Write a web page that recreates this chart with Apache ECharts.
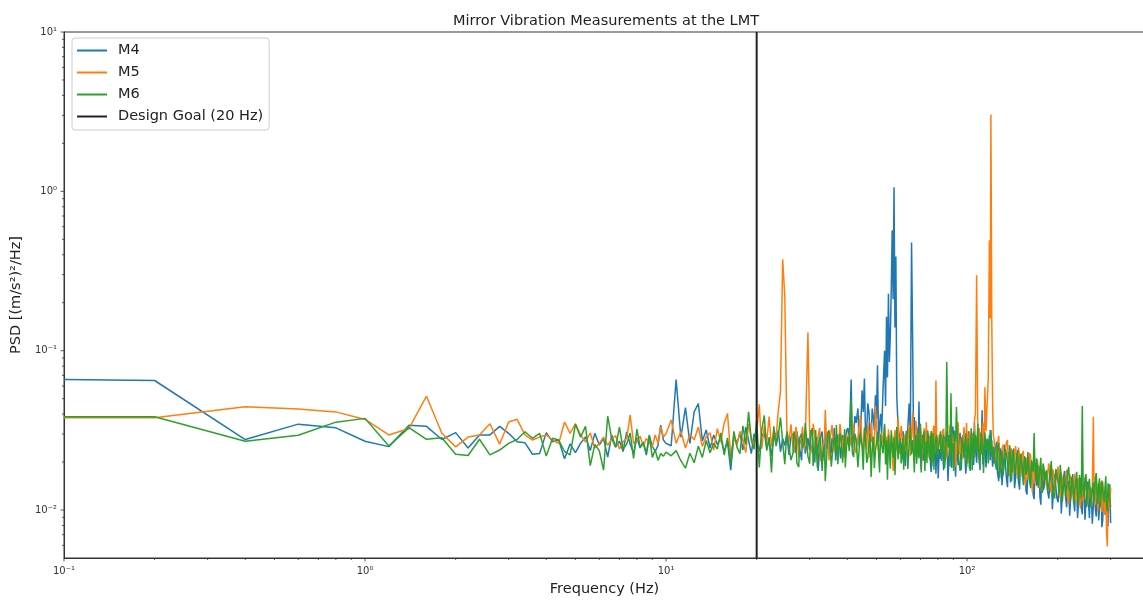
<!DOCTYPE html>
<html>
<head>
<meta charset="utf-8">
<script src="https://cdn.jsdelivr.net/npm/echarts@6/dist/echarts.min.js"></script>
<style>
  html, body { margin: 0; padding: 0; background: #fff; }
  #chart { width: 1143px; height: 603px; }
</style>
</head>
<body>
<div id="chart"></div>
<script>
// frequency grid (Hz), shared by the three mirrors
const freqs = [
  .1,.2,.4,.6,.8,1,
  1.2,1.4,1.6,1.8,2,2.2,2.4,2.6,2.8,3,
  3.2,3.4,3.6,3.8,4,4.2,4.4,4.6,4.8,5,
  5.2,5.4,5.6,5.8,6,6.2,6.4,6.6,6.8,7,
  7.2,7.4,7.6,7.8,8,8.2,8.4,8.6,8.8,9,
  9.2,9.4,9.6,9.8,10,
  10.4,10.8,11.2,11.6,12,12.4,12.8,13.2,13.6,14,
  14.4,14.8,15.2,15.6,16,16.4,16.8,17.2,17.6,18,
  18.4,18.8,19.2,19.6,20,20.4,20.8,21.2,21.6,22,
  22.4,22.8,23.2,23.6,24,24.4,24.8,25.2,25.6,26,
  26.6,27.2,27.8,28.4,29,29.6,30.2,30.8,31.4,32,
  32.6,33.2,33.8,34.4,35,35.6,36.2,36.8,37.4,38,
  38.6,39.2,39.8,
  40.6,41.2,42,42.8,43.4,44.2,44.8,45.6,46.4,47.2,
  48,48.8,49.6,50.4,51.2,52,52.6,53.2,53.6,54,
  54.4,54.8,55.2,55.6,56,56.4,56.8,57.2,57.6,58,
  58.4,59,59.6,
  60.4,61.2,62,62.8,63.6,64.2,64.8,65.4,66,66.8,
  67.6,68.4,69.2,70,70.8,71.6,72.4,73.2,74,74.8,
  75.6,76.4,77.2,78,78.8,79.6,
  80.8,82.2,83.6,85,85.6,86.4,87.8,88.4,89.6,91,
  92.2,93.4,94.8,96.2,97.6,99,100.4,101.8,103.2,104.6,
  105.8,106.6,107.6,108.6,109.8,111,112.2,113.4,114.6,115.6,
  116.6,117.6,118.6,119.4,120,120.8,121.6,
  123,125.2,127.4,129.6,131.8,134,136.2,138.4,140.6,142.8,
  145,147.2,149.4,151.6,153.8,156,158.2,160.4,162.6,164.8,
  167,169.2,171.4,173.6,175.8,178,180.2,
  183.6,187,190.4,193.8,197.2,200.6,204,207.4,210.8,214.2,
  217.6,221,224.4,227.8,231.2,234.6,238,241.4,244.8,248.2,
  251.6,255,258.4,262.8,265.2,268.6,272,275.4,278.8,282.2,
  285.6,289,292.4,295.8,298,299.8
];

// PSD values [(m/s^2)^2/Hz]
const m4 = [
  .066,.065,.0277,.0346,.0328,.027,
  .025,.034,.0335,.0277,.0306,.0245,.0296,.0296,.0335,.0303,
  .0268,.0264,.0224,.0226,.0306,.0268,.0275,.021,.026,.0229,
  .0262,.0287,.0236,.0303,.0256,.0282,.0215,.0296,.0248,.0271,
  .0233,.0309,.0259,.0227,.0284,.0245,.0268,.0221,.0291,.0252,
  .0233,.0254,.0341,.0275,.0262,
  .0253,.066,.0286,.044,.0262,.0413,.0466,.0271,.0318,.0245,
  .0296,.0258,.0282,.0233,.0269,.0178,.0291,.0262,.0305,.0238,
  .0331,.0274,.0226,.0301,.0268,.0233,.0291,.0307,.0243,.0273,
  .0218,.0296,.0262,.0316,.0232,.0281,.0254,.0302,.0222,.0287,
  .0264,.0312,.0241,.0295,.0226,.0283,.0318,.0249,.0272,.0176,
  .0291,.0237,.0305,.0262,.0219,.0284,.0327,.0243,.0269,.0211,
  .0296,.0254,.0315,
  .0258,.066,.0297,.0352,.0434,.0281,.0565,.067,.0312,.0415,
  .0268,.0386,.0525,.081,.0344,.0298,.058,.10,.045,.163,
  .068,.228,.085,.126,.245,.57,.21,1.06,.14,.39,
  .052,.0336,.0288,
  .0249,.0312,.0218,.0274,.0335,.0466,.0297,.477,.10,.0383,
  .0256,.0302,.048,.0237,.0283,.0204,.0319,.0262,.0228,.0291,
  .0193,.0307,.0245,.0272,.0169,.0286,
  .0241,.0298,.0178,.0263,.0312,.0152,.0276,.0229,.0334,.0207,
  .0268,.0191,.0305,.0236,.0274,.0169,.0258,.0213,.0291,.0225,
  .0352,.0247,.0198,.0282,.0234,.0307,.0423,.0219,.0263,.0185,
  .0274,.0241,.0296,.0205,.0318,.0232,.0187,
  .0196,.0268,.0152,.0234,.0187,.0251,.0139,.0216,.0178,.0243,
  .0161,.0205,.0134,.0226,.0172,.0198,.0125,.0209,.0158,.0186,
  .0117,.0194,.0148,.0172,.0108,.0181,.0139,
  .0162,.0118,.0185,.0137,.0171,.0112,.0163,.0129,.0176,.0104,
  .0152,.0121,.0168,.0098,.0147,.0115,.0159,.0094,.0138,.0112,
  .0151,.0089,.0133,.0108,.0146,.0091,.0129,.0103,.0141,.0086,
  .0124,.0097,.0083,.0131,.0145,.0083
];

const m5 = [
  .038,.038,.0445,.043,.0413,.037,
  .0296,.0325,.0518,.0303,.0249,.0287,.0296,.0348,.0259,.0357,
  .0371,.0296,.0275,.0287,.0296,.0275,.0262,.0357,.0303,.0348,
  .0296,.0268,.0305,.0245,.0262,.0287,.0255,.0279,.0293,.0241,
  .0268,.0282,.0394,.0262,.0273,.029,.0252,.0281,.0266,.0248,
  .0296,.0263,.0334,.0287,.0301,
  .0367,.0262,.0311,.0245,.0298,.0276,.0332,.0251,.0289,.0305,
  .0238,.0324,.0267,.0352,.0404,.0218,.0284,.0256,.0312,.0272,
  .0229,.0347,.0281,.0258,.0301,.0461,.0243,.0335,.0269,.0386,
  .0251,.0318,.0284,.042,.056,.375,.22,.032,.0268,.0345,
  .0228,.0301,.0256,.0334,.0271,.13,.0262,.0348,.0239,.0292,
  .0203,.0257,.0425,.0311,.0274,.0342,.0231,.0288,.0252,.0326,
  .0268,.0214,.0297,
  .0301,.0254,.0342,.0228,.0287,.0392,.0263,.0318,.0241,.0296,
  .0352,.0231,.0451,.0274,.0213,.0306,.0259,.0337,.0242,.0288,
  .0195,.0321,.0267,.0226,.0298,.0251,.0176,.0279,.0318,.0236,
  .0264,.0381,.0225,
  .0337,.0264,.0295,.0232,.0278,.0341,.0218,.0306,.0412,.0247,
  .0363,.0239,.0285,.0331,.0206,.0274,.0248,.0356,.0267,.0213,
  .0298,.0254,.0321,.0227,.065,.0243,
  .0298,.0236,.0324,.0271,.0214,.0286,.0343,.0252,.0218,.0301,
  .0245,.0356,.0223,.0289,.0331,.0248,.0196,.0312,.0267,.0236,
  .0362,.0406,.297,.0284,.0327,.0249,.0298,.0338,.059,.0312,
  .0456,.067,.493,.16,3.04,.152,.0452,
  .0274,.0213,.0292,.0185,.0257,.0224,.0275,.0164,.0238,.0201,
  .0252,.0158,.0219,.0186,.0235,.0142,.0208,.0171,.0219,.0129,
  .0192,.0163,.0206,.0138,.0179,.0152,.0193,
  .0141,.0196,.0127,.0174,.0152,.0188,.0119,.0167,.0143,.0179,
  .0109,.0158,.0131,.0169,.0121,.0154,.0102,.0148,.0126,.0162,
  .0108,.0141,.0117,.0385,.0113,.0152,.0098,.0137,.0114,.0151,
  .0093,.0129,.0059,.0141,.0101,.0138
];

const m6 = [
  .0385,.0385,.027,.0295,.0356,.0376,
  .0252,.0329,.0278,.0284,.0224,.022,.0278,.0222,.0238,.0262,
  .0277,.031,.0282,.0303,.0218,.0282,.0275,.0233,.0222,.0345,
  .0287,.0335,.019,.0258,.0236,.0178,.0388,.0281,.0248,.0331,
  .024,.0259,.0305,.0211,.0322,.0249,.0263,.0228,.0296,.0214,
  .0239,.0205,.0226,.0218,.0231,
  .0219,.0236,.0204,.0183,.0227,.0198,.0252,.0214,.0273,.0229,
  .0262,.0241,.0305,.0221,.0284,.0196,.0312,.0248,.0226,.0338,
  .0257,.0413,.0274,.0241,.0367,.0185,.0318,.0392,.0236,.0287,
  .0172,.0335,.0252,.0296,.0381,.0268,.0194,.0312,.0247,.0206,
  .0312,.0197,.0283,.0245,.0352,.0218,.0296,.0189,.0318,.0247,
  .0272,.0228,.0152,.0301,.0264,.0213,.0287,.0341,.0226,.0293,
  .0198,.0322,.0256,
  .0234,.0498,.0215,.0278,.0186,.0302,.0247,.0329,.0198,.0265,
  .0161,.0289,.0236,.0311,.0172,.0258,.0227,.0348,.0193,.0274,
  .0155,.0296,.0238,.0182,.0317,.0259,.0214,.0287,.0166,.0243,
  .0332,.0208,.0271,
  .0196,.0283,.0247,.0314,.0181,.0262,.0328,.0223,.0275,.0172,
  .0296,.0254,.0211,.0348,.0237,.0289,.0176,.0269,.0315,.0226,
  .0261,.0188,.0302,.0241,.0283,.0214,
  .0267,.0203,.0295,.0231,.085,.0248,.0187,.054,.0262,.0315,
  .0443,.0228,.0176,.0284,.0213,.0302,.0241,.0182,.0326,.0259,
  .0214,.0297,.0235,.0348,.0193,.0273,.0226,.0171,.0308,.0245,
  .0281,.0196,.0262,.0318,.0229,.0274,.0207,
  .0238,.0179,.0263,.0211,.0165,.0242,.0198,.0256,.0152,.0221,
  .0184,.0239,.0171,.0204,.0143,.0215,.0178,.0226,.0137,.0196,
  .0304,.0152,.0187,.0161,.0213,.0128,.0175,
  .0178,.0146,.0203,.0124,.0181,.0149,.0192,.0113,.0164,.0138,
  .0186,.0117,.0153,.0135,.0174,.0106,.0162,.0449,.0121,.0168,
  .0132,.0157,.0103,.0149,.0126,.0171,.0109,.0158,.0127,.0149,
  .0112,.0163,.0098,.0139,.0117,.0104
];

// extra in-between samples above 26 Hz, where the spectra form a dense band
const freqsFill = [
  26.4,27,27.6,28.2,28.8,30,30.6,31.2,31.8,32.4,33,33.6,34.2,34.8,35.4,36,36.6,37.2,37.8,38.4,39,39.4,
  40.2,41.6,42.4,43.8,45.2,46,46.8,47.6,48.4,49.2,50,50.8,51.6,
  60,60.8,61.6,62.4,63.2,66.4,67.2,68,68.8,69.6,70.4,71.2,72,72.8,73.6,74.4,75.2,76,76.8,77.6,78.4,79.2,80.2,
  81.6,82.8,84.2,87,89,90.2,91.6,92.8,94,95.6,96.8,98.2,99.6,101,102.4,104,105.2,109.2,110.4,111.6,112.8,114,122.2,
  124,126.2,128.4,130.6,132.8,135,137.2,139.4,141.6,143.8,146,148.2,150.4,152.6,154.8,157,159.2,161.4,163.6,165.8,168,170.2,172.4,174.6,176.8,179,181.8,
  185.2,188.6,192,195.4,198.8,202.2,205.6,209,212.4,215.8,219.2,222.6,226,229.4,232.8,236.2,239.6,243,246.4,249.8,253.2,256.6,260.6,264,266.8,270.2,273.6,277,280.4,283.8,287.2,290.6,294,296.8
];

const m4Fill = [
  .0302,.0229,.0318,.0205,.0276,.0238,.0292,.0199,.0287,.0246,.0311,.0203,.0274,.0296,.0231,.0262,.0205,.0298,.0243,.0271,.0226,.0281,
  .0327,.0245,.0389,.0251,.0412,.0286,.0468,.0292,.0433,.0315,.0374,.0268,.0402,
  .0281,.0224,.0296,.0189,.0251,.0276,.0217,.0332,.0214,.0289,.0181,.0297,.0243,.0211,.0305,.0247,.0275,.0173,.0286,.0214,.0298,.0226,.0158,
  .0209,.0256,.0288,.0213,.0184,.0297,.0162,.0224,.0281,.0178,.0296,.0243,.0201,.0312,.0176,.0268,.0192,.0308,.0178,.0256,.0193,.0298,.0228,
  .0231,.0171,.0245,.0143,.0258,.0162,.0231,.0149,.0212,.0137,.0228,.0151,.0195,.0162,.0218,.0131,.0184,.0146,.0206,.0125,.0176,.0142,.0191,.0121,.0162,.0133,.0174,
  .0131,.0157,.0101,.0168,.0119,.0148,.0095,.0158,.0121,.0146,.0092,.0139,.0113,.0152,.0089,.0131,.0104,.0145,.0087,.0128,.0111,.0138,.0082,.0125,.0101,.0134,.0086,.0119,.0078,.0121,.0094,.0113,.0079,.0101
];

const m5Fill = [
  .0251,.0333,.0214,.0287,.0238,.0309,.0226,.0296,.0262,.0328,.0219,.0284,.0243,.0205,.0317,.0257,.0296,.0224,.0347,.0236,.0291,.0248,
  .0261,.0318,.0246,.0279,.0224,.0301,.0351,.0213,.0284,.0247,.0326,.0238,.0287,
  .0248,.0303,.0215,.0287,.0251,.0286,.0221,.0317,.0252,.0218,.0297,.0234,.0326,.0212,.0271,.0303,.0216,.0289,.0229,.0338,.0256,.0301,.0235,
  .0257,.0311,.0219,.0246,.0302,.0263,.0187,.0315,.0241,.0276,.0209,.0298,.0352,.0224,.0286,.0305,.0219,.0211,.0288,.0221,.0352,.0247,.0296,
  .0196,.0258,.0171,.0241,.0208,.0264,.0182,.0246,.0172,.0228,.0191,.0247,.0166,.0224,.0176,.0213,.0155,.0228,.0167,.0201,.0147,.0198,.0159,.0186,.0131,.0195,.0163,
  .0172,.0141,.0181,.0133,.0165,.0126,.0171,.0138,.0156,.0118,.0168,.0124,.0152,.0113,.0159,.0129,.0143,.0112,.0157,.0119,.0146,.0125,.0132,.0154,.0108,.0143,.0121,.0149,.0097,.0134,.0109,.0072,.0126,.0112
];

const m6Fill = [
  .0227,.0268,.0186,.0302,.0263,.0195,.0326,.0231,.0184,.0291,.0176,.0258,.0223,.0316,.0187,.0272,.0236,.0194,.0303,.0231,.0265,.0185,
  .0288,.0226,.0301,.0241,.0179,.0275,.0213,.0302,.0238,.0183,.0262,.0226,.0298,
  .0281,.0214,.0179,.0262,.0237,.0228,.0267,.0195,.0306,.0232,.0172,.0265,.0312,.0241,.0197,.0284,.0207,.0313,.0226,.0179,.0258,.0297,.0231,
  .0312,.0254,.0183,.0296,.0233,.0176,.0268,.0301,.0232,.0205,.0271,.0239,.0186,.0282,.0224,.0178,.0311,.0238,.0216,.0302,.0254,.0223,.0249,
  .0196,.0251,.0159,.0235,.0192,.0226,.0163,.0214,.0237,.0169,.0211,.0158,.0224,.0176,.0205,.0166,.0231,.0153,.0201,.0174,.0192,.0211,.0138,.0183,.0147,.0196,.0155,
  .0132,.0171,.0143,.0118,.0167,.0126,.0159,.0141,.0122,.0175,.0138,.0161,.0109,.0148,.0126,.0166,.0118,.0139,.0157,.0104,.0145,.0119,.0136,.0112,.0158,.0128,.0143,.0104,.0153,.0121,.0139,.0108,.0147,.0122
];

const goalFreq = 20;
const xMin = 0.1, xMax = 390, yMin = 0.005, yMax = 10;
const xMajorTicks = [0.1, 1, 10, 100];
const xMinorTicks = [0.2,0.3,0.4,0.5,0.6,0.7,0.8,0.9, 2,3,4,5,6,7,8,9, 20,30,40,50,60,70,80,90, 200,300];
const yMajorTicks = [0.01, 0.1, 1, 10];
const yMinorTicks = [0.006,0.007,0.008,0.009, 0.02,0.03,0.04,0.05,0.06,0.07,0.08,0.09,
  0.2,0.3,0.4,0.5,0.6,0.7,0.8,0.9, 2,3,4,5,6,7,8,9];

const FONT = 'DejaVu Sans';
const INK = '#333';

const sup = { '-': '\u207b', '0': '\u2070', '1': '\u00b9', '2': '\u00b2', '3': '\u00b3' };
function decadeLabel(v) {
  const e = Math.log10(v), r = Math.round(e);
  if (Math.abs(e - r) > 1e-6) return '';
  return '10' + String(r).split('').map(c => sup[c]).join('');
}

// main grid + in-between samples, sorted by frequency
function spectrum(vals, fillVals) {
  const pts = freqs.map((f, i) => [f, vals[i]])
    .concat(freqsFill.map((f, i) => [f, fillVals[i]]));
  return pts.sort((a, b) => a[0] - b[0]);
}

// tick marks: [x, y, length, 0 = bottom axis / 1 = left axis]
const tickData = [];
xMajorTicks.forEach(v => tickData.push([v, yMin, 3.5, 0]));
xMinorTicks.forEach(v => tickData.push([v, yMin, 2, 0]));
yMajorTicks.forEach(v => tickData.push([xMin, v, 3.5, 1]));
yMinorTicks.forEach(v => tickData.push([xMin, v, 2, 1]));

const chart = echarts.init(document.getElementById('chart'));

const lineSeries = (name, data, color, z) => ({
  name: name,
  type: 'line',
  data: data,
  symbol: 'none',
  z: z,
  lineStyle: { width: 1.5, color: color },
  itemStyle: { color: color },
  emphasis: { disabled: true }
});

const option = {
  animation: false,
  title: {
    text: 'Mirror Vibration Measurements at the LMT',
    left: 606,
    top: 14,
    padding: 0,
    textAlign: 'center',
    textStyle: { fontFamily: FONT, fontSize: 14.5, fontWeight: 'normal', color: '#222' }
  },
  legend: {
    data: ['M4', 'M5', 'M6', 'Design Goal (20 Hz)'],
    icon: 'rect',
    orient: 'vertical',
    left: 72,
    top: 38,
    itemWidth: 30,
    itemHeight: 2,
    itemGap: 7,
    padding: [5, 6, 6, 5],
    borderColor: '#ccc',
    borderWidth: 1,
    borderRadius: 3,
    backgroundColor: 'rgba(255,255,255,0.8)',
    textStyle: { fontFamily: FONT, fontSize: 14.5, color: '#222', padding: [0, 0, 0, 6] }
  },
  grid: {
    left: 64, top: 32, width: 1081, height: 526,
    outerBoundsMode: 'none',
    containLabel: false,
    show: true, borderColor: INK, borderWidth: 1, backgroundColor: 'transparent'
  },
  xAxis: {
    type: 'log',
    logBase: 10,
    min: xMin,
    max: xMax,
    name: 'Frequency (Hz)',
    nameLocation: 'middle',
    nameGap: 24,
    nameTextStyle: { fontFamily: FONT, fontSize: 14.5, color: '#222' },
    axisLine: { show: true, lineStyle: { color: INK, width: 1 } },
    axisTick: { show: false },
    splitLine: { show: false },
    axisLabel: {
      formatter: decadeLabel,
      fontFamily: FONT, fontSize: 10, color: INK, margin: 8
    }
  },
  yAxis: {
    type: 'log',
    logBase: 10,
    min: yMin,
    max: yMax,
    name: 'PSD [(m/s\u00b2)\u00b2/Hz]',
    nameLocation: 'middle',
    nameGap: 31,
    nameTextStyle: { fontFamily: FONT, fontSize: 14.5, color: '#222' },
    axisLine: { show: true, lineStyle: { color: INK, width: 1 } },
    axisTick: { show: false },
    splitLine: { show: false },
    axisLabel: {
      formatter: decadeLabel,
      fontFamily: FONT, fontSize: 10, color: INK, margin: 7
    }
  },
  series: [
    lineSeries('M4', spectrum(m4, m4Fill), '#1f77b4', 2),
    lineSeries('M5', spectrum(m5, m5Fill), '#ff7f0e', 3),
    lineSeries('M6', spectrum(m6, m6Fill), '#2ca02c', 4),
    {
      name: 'Design Goal (20 Hz)',
      type: 'line',
      data: [[goalFreq, yMin], [goalFreq, yMax]],
      symbol: 'none',
      z: 5,
      lineStyle: { width: 2, color: '#222' },
      itemStyle: { color: '#222' },
      emphasis: { disabled: true }
    },
    {
      type: 'custom',
      name: 'ticks',
      data: tickData,
      clip: false,
      silent: true,
      z: 6,
      renderItem: function (params, api) {
        const p = api.coord([api.value(0), api.value(1)]);
        const len = api.value(2);
        const shape = api.value(3) === 0
          ? { x1: p[0], y1: p[1], x2: p[0], y2: p[1] + len }
          : { x1: p[0] - len, y1: p[1], x2: p[0], y2: p[1] };
        return { type: 'line', shape: shape, style: { stroke: INK, lineWidth: 0.8 } };
      }
    }
  ]
};

chart.setOption(option);
</script>
</body>
</html>
